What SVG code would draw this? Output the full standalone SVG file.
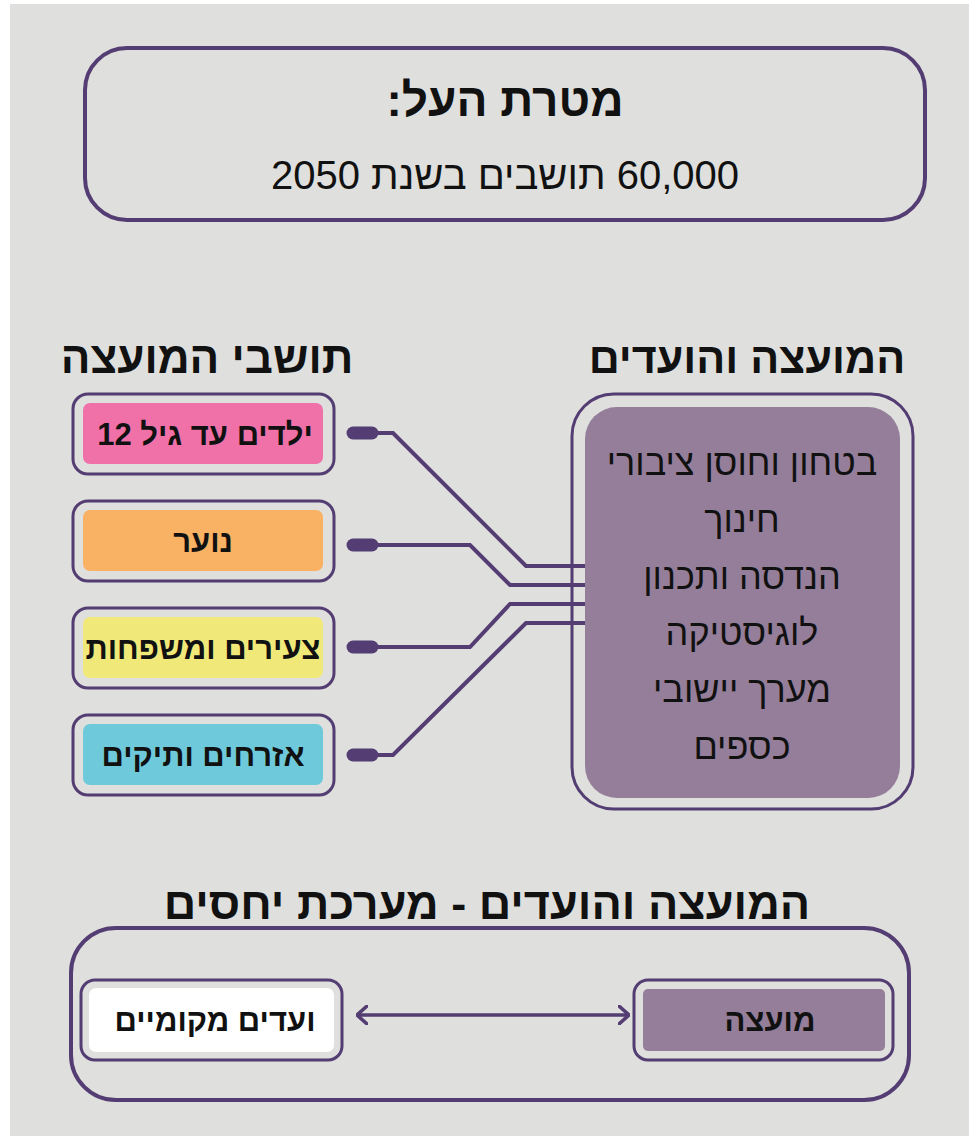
<svg xmlns="http://www.w3.org/2000/svg" width="969" height="1136" viewBox="0 0 969 1136">
<defs>
<style>
.frame{fill:none;stroke:#533d72;stroke-width:4}
.sframe{fill:none;stroke:#533d72;stroke-width:3}
.t{font-family:"Liberation Sans","DejaVu Sans",sans-serif;fill:#111;text-anchor:middle;direction:rtl}
.b{font-weight:bold}
.wire{fill:none;stroke:#533d72;stroke-width:4;stroke-linejoin:miter}
.plug{stroke:#533d72;stroke-width:13;stroke-linecap:round}
.mauve{fill:#957e9a}
</style>
<marker id="chev" viewBox="0 0 12 20" refX="11" refY="10" markerWidth="12" markerHeight="20" markerUnits="userSpaceOnUse" orient="auto-start-reverse">
<path d="M1,1 L11,10 L1,19" fill="none" stroke="#533d72" stroke-width="3.5" stroke-linecap="round" stroke-linejoin="round"/>
</marker>
</defs>
<rect x="0" y="0" width="969" height="1136" fill="#ffffff"/>
<rect x="10" y="4" width="959" height="1132" fill="#dfdfdd"/>

<g id="goal">
<rect class="frame" x="85" y="48" width="840" height="172" rx="42"/>
<text class="t b" x="505" y="116" font-size="46">מטרת העל:</text>
<text class="t" x="505" y="189" font-size="40">60,000 תושבים בשנת 2050</text>
</g>

<g id="heading-residents">
<text class="t b" x="207" y="373" font-size="44">תושבי המועצה</text>
</g>
<g id="heading-council">
<text class="t b" x="747" y="373" font-size="43">המועצה והועדים</text>
</g>

<g id="kids">
<rect class="sframe" x="73" y="394" width="261" height="80" rx="15"/>
<rect x="83" y="403" width="240" height="61" rx="7" fill="#f070a8"/>
<text class="t b" x="205" y="445" font-size="31">ילדים עד גיל 12</text>
</g>
<g id="youth">
<rect class="sframe" x="73" y="501" width="261" height="80" rx="15"/>
<rect x="83" y="510" width="240" height="61" rx="7" fill="#f9b264"/>
<text class="t b" x="203" y="552" font-size="31">נוער</text>
</g>
<g id="young-families">
<rect class="sframe" x="73" y="608" width="261" height="80" rx="15"/>
<rect x="83" y="617" width="240" height="61" rx="7" fill="#f0e97a"/>
<text class="t b" x="203" y="659" font-size="31">צעירים ומשפחות</text>
</g>
<g id="seniors">
<rect class="sframe" x="73" y="715" width="261" height="80" rx="15"/>
<rect x="83" y="724" width="240" height="61" rx="7" fill="#6ecadb"/>
<text class="t b" x="203" y="766" font-size="31">אזרחים ותיקים</text>
</g>

<g id="council-departments">
<rect class="sframe" x="572" y="394" width="341" height="415" rx="42"/>
<rect class="mauve" x="585" y="407" width="315" height="391" rx="32"/>
<text class="t" x="742" y="475" font-size="36">בטחון וחוסן ציבורי</text>
<text class="t" x="742" y="532" font-size="36">חינוך</text>
<text class="t" x="742" y="589" font-size="36">הנדסה ותכנון</text>
<text class="t" x="742" y="645" font-size="36">לוגיסטיקה</text>
<text class="t" x="742" y="702" font-size="36">מערך יישובי</text>
<text class="t" x="742" y="759" font-size="36">כספים</text>
</g>

<g id="connectors">
<path class="wire" d="M375,433 L393,433 L526,566 L585,566"/>
<path class="wire" d="M375,545 L470,545 L510,585 L585,585"/>
<path class="wire" d="M375,647 L470,647 L510,604 L585,604"/>
<path class="wire" d="M375,755 L393,755 L526,623 L585,623"/>
<line class="plug" x1="353" y1="433" x2="372" y2="433"/>
<line class="plug" x1="353" y1="545" x2="372" y2="545"/>
<line class="plug" x1="353" y1="647" x2="372" y2="647"/>
<line class="plug" x1="353" y1="755" x2="372" y2="755"/>
<line x1="357" y1="1015" x2="629" y2="1015" stroke="#533d72" stroke-width="3.5" marker-start="url(#chev)" marker-end="url(#chev)"/>
</g>

<g id="heading-relations">
<text class="t b" x="487" y="919" font-size="45">המועצה והועדים - מערכת יחסים</text>
</g>

<g id="relations-frame">
<rect class="frame" x="71" y="928" width="838" height="172" rx="45"/>
</g>

<g id="local-committees">
<rect class="sframe" x="81" y="980" width="261" height="80" rx="14"/>
<rect x="89" y="988" width="245" height="64" rx="7" fill="#ffffff"/>
<text class="t b" x="215" y="1031" font-size="31">ועדים מקומיים</text>
</g>
<g id="council">
<rect class="sframe" x="634" y="980" width="259" height="80" rx="14"/>
<rect class="mauve" x="643" y="989" width="242" height="62" rx="5"/>
<text class="t b" x="770" y="1031" font-size="31">מועצה</text>
</g>
</svg>
